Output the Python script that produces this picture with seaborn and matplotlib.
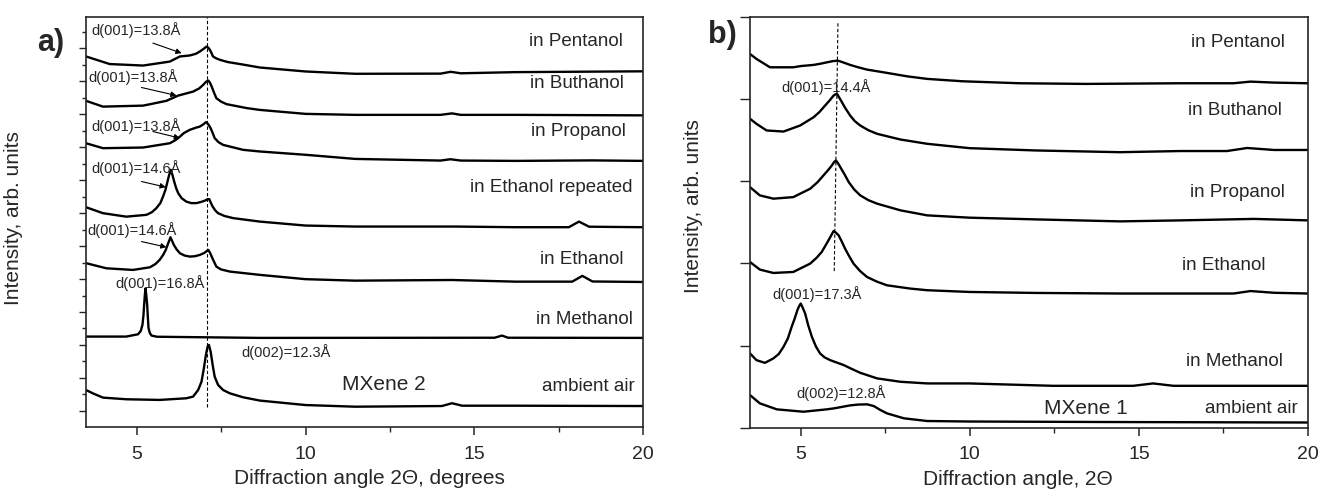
import matplotlib
matplotlib.use("Agg")
import matplotlib.pyplot as plt
from matplotlib.ticker import FixedLocator, MultipleLocator, NullFormatter
import pandas as pd
import seaborn as sns

# ---------------------------------------------------------------------------
# XRD patterns, MXene 2 (panel a) - stacked intensities, arb. units
# ---------------------------------------------------------------------------
a_pentanol_2t = [3.5, 4.2, 5.19, 5.98, 6.28, 6.57, 6.75, 6.87, 6.98, 7.07, 7.12, 7.17, 7.22,
                 7.26, 7.35, 7.46, 7.7, 8.06, 8.65, 10.0, 11.47, 14.0, 14.3, 14.6, 16.22, 20.0]
a_pentanol_i = [22.49, 22.03, 21.94, 22.18, 22.49, 22.55, 22.65, 22.79, 22.95, 23.09, 23.02,
                22.89, 22.68, 22.49, 22.38, 22.29, 22.15, 22.03, 21.82, 21.58, 21.44, 21.45,
                21.56, 21.47, 21.54, 21.59]

a_buthanol_2t = [3.5, 4.0, 5.19, 5.88, 6.23, 6.67, 6.85, 6.97, 7.05, 7.12, 7.17, 7.22, 7.29,
                 7.36, 7.5, 7.66, 8.26, 8.65, 10.0, 11.47, 14.0, 14.34, 14.6, 16.22, 20.0]
a_buthanol_i = [19.80, 19.45, 19.51, 19.80, 20.12, 20.36, 20.55, 20.77, 20.95, 21.03, 20.90,
                20.67, 20.30, 19.96, 19.75, 19.60, 19.36, 19.25, 19.01, 18.95, 18.95, 19.04,
                18.95, 18.95, 18.92]

a_propanol_2t = [3.5, 4.0, 5.19, 5.98, 6.15, 6.28, 6.4, 6.57, 6.75, 6.87, 6.97, 7.05, 7.12,
                 7.19, 7.25, 7.31, 7.42, 7.56, 8.15, 8.65, 10.0, 11.47, 14.0, 14.29, 14.6,
                 16.22, 18.5, 20.0]
a_propanol_i = [17.23, 16.93, 16.97, 17.23, 17.42, 17.63, 17.85, 18.04, 18.17, 18.24, 18.37,
                18.51, 18.38, 18.14, 17.85, 17.54, 17.30, 17.13, 16.83, 16.73, 16.53, 16.28,
                16.18, 16.26, 16.18, 16.16, 16.19, 16.16]

a_ethanol_rep_2t = [3.5, 4.0, 4.69, 5.29, 5.45, 5.58, 5.70, 5.78, 5.85, 5.90, 5.96, 6.01, 6.06,
                    6.11, 6.17, 6.23, 6.33, 6.47, 6.62, 6.77, 6.92, 7.02, 7.10, 7.15, 7.20,
                    7.25, 7.33, 7.41, 7.6, 7.86, 8.65, 10.0, 11.47, 14.44, 16.22, 17.8, 18.1,
                    18.4, 20.0]
a_ethanol_rep_i = [13.35, 12.99, 12.78, 12.89, 13.05, 13.29, 13.60, 14.00, 14.40, 14.81, 15.30,
                   15.62, 15.30, 14.91, 14.50, 14.20, 13.90, 13.69, 13.60, 13.60, 13.68, 13.75,
                   13.84, 13.84, 13.60, 13.39, 13.15, 12.99, 12.82, 12.69, 12.48, 12.24, 12.18,
                   12.18, 12.14, 12.14, 12.48, 12.17, 12.14]

a_ethanol_2t = [3.5, 4.1, 4.89, 5.39, 5.55, 5.68, 5.78, 5.86, 5.93, 6.00, 6.05, 6.10, 6.18,
                6.28, 6.42, 6.57, 6.72, 6.87, 7.0, 7.12, 7.17, 7.22, 7.29, 7.36, 7.5, 7.76,
                8.65, 10.0, 11.47, 14.34, 16.22, 17.9, 18.2, 18.5, 20.0]
a_ethanol_i = [9.96, 9.65, 9.55, 9.71, 9.90, 10.16, 10.45, 10.76, 11.15, 11.53, 11.30, 11.07,
               10.80, 10.56, 10.42, 10.36, 10.38, 10.46, 10.58, 10.76, 10.60, 10.36, 10.05,
               9.75, 9.58, 9.45, 9.25, 8.99, 8.90, 8.94, 8.84, 8.84, 9.19, 8.85, 8.82]

a_methanol_2t = [3.5, 4.69, 5.04, 5.12, 5.17, 5.20, 5.22, 5.24, 5.26, 5.285, 5.31, 5.33, 5.35,
                 5.39, 5.44, 5.6, 8.65, 15.6, 15.82, 16.0, 20.0]
a_methanol_i = [5.51, 5.51, 5.65, 5.85, 6.22, 6.80, 7.43, 8.00, 8.43, 8.00, 7.43, 6.70, 6.02,
                5.72, 5.57, 5.50, 5.43, 5.44, 5.57, 5.44, 5.43]

a_air_2t = [3.5, 3.70, 4.0, 4.69, 5.68, 6.47, 6.67, 6.82, 6.92, 6.99, 7.05, 7.10, 7.14, 7.19,
            7.25, 7.31, 7.41, 7.56, 7.76, 8.15, 8.65, 10.0, 11.47, 14.04, 14.34, 14.64,
            16.22, 20.0]
a_air_i = [2.27, 2.07, 1.81, 1.71, 1.67, 1.77, 1.87, 2.27, 2.78, 3.59, 4.40, 4.90, 5.00, 4.60,
           3.79, 3.08, 2.58, 2.27, 2.07, 1.83, 1.63, 1.36, 1.26, 1.30, 1.47, 1.32, 1.32, 1.30]

# ---------------------------------------------------------------------------
# XRD patterns, MXene 1 (panel b)
# ---------------------------------------------------------------------------
b_pentanol_2t = [3.5, 3.69, 4.09, 4.78, 5.0, 5.38, 5.6, 5.77, 5.95, 6.10, 6.25, 6.46, 6.7,
                 6.96, 7.55, 8.15, 8.74, 9.79, 11.47, 13.45, 16.22, 17.8, 18.3, 19.0, 20.0]
b_pentanol_i = [4.547, 4.487, 4.385, 4.385, 4.400, 4.414, 4.430, 4.445, 4.460, 4.466, 4.445,
                4.414, 4.385, 4.357, 4.317, 4.275, 4.244, 4.215, 4.191, 4.183, 4.191, 4.191,
                4.211, 4.199, 4.191]

b_buthanol_2t = [3.5, 3.69, 3.99, 4.49, 4.98, 5.38, 5.55, 5.72, 5.85, 5.97, 6.02, 6.07, 6.12,
                 6.22, 6.30, 6.46, 6.6, 6.76, 7.0, 7.26, 7.95, 8.74, 9.99, 11.96, 14.44,
                 16.22, 17.6, 18.2, 19.0, 20.0]
b_buthanol_i = [3.759, 3.698, 3.617, 3.604, 3.677, 3.778, 3.840, 3.920, 3.980, 4.041, 4.055,
                4.062, 4.030, 3.960, 3.900, 3.799, 3.730, 3.677, 3.620, 3.576, 3.507, 3.455,
                3.402, 3.374, 3.353, 3.367, 3.367, 3.404, 3.380, 3.380]

b_propanol_2t = [3.5, 3.79, 4.19, 4.78, 5.28, 5.5, 5.67, 5.82, 5.92, 5.99, 6.04, 6.10, 6.17,
                 6.3, 6.42, 6.58, 6.76, 7.0, 7.26, 7.95, 8.74, 9.99, 11.96, 14.44, 16.22,
                 18.4, 20.0]
b_propanol_i = [2.928, 2.828, 2.788, 2.807, 2.909, 2.990, 3.070, 3.140, 3.192, 3.235, 3.252,
                3.220, 3.171, 3.080, 2.989, 2.900, 2.828, 2.770, 2.727, 2.646, 2.585, 2.557,
                2.536, 2.512, 2.524, 2.542, 2.524]

b_ethanol_2t = [3.5, 3.79, 4.19, 4.78, 5.28, 5.47, 5.62, 5.72, 5.82, 5.90, 5.97, 6.04, 6.12,
                6.21, 6.31, 6.43, 6.56, 6.75, 6.96, 7.25, 7.55, 8.24, 8.74, 9.99, 11.96, 14.44,
                16.22, 17.8, 18.3, 19.0, 20.0]
b_ethanol_i = [2.018, 1.926, 1.885, 1.897, 1.999, 2.070, 2.140, 2.210, 2.282, 2.340, 2.394,
               2.375, 2.342, 2.270, 2.181, 2.090, 1.999, 1.910, 1.836, 1.780, 1.735, 1.695,
               1.675, 1.654, 1.642, 1.635, 1.635, 1.635, 1.665, 1.644, 1.635]

b_methanol_2t = [3.5, 3.69, 3.94, 4.19, 4.35, 4.49, 4.62, 4.73, 4.82, 4.90, 4.95, 5.00, 5.06,
                 5.13, 5.22, 5.33, 5.45, 5.57, 5.7, 5.87, 6.27, 6.5, 6.76, 7.26, 7.95, 8.74,
                 9.99, 12.46, 14.83, 15.42, 16.02, 20.0]
b_methanol_i = [0.907, 0.825, 0.792, 0.846, 0.900, 0.987, 1.090, 1.229, 1.330, 1.432, 1.480,
                1.513, 1.460, 1.392, 1.250, 1.108, 0.990, 0.907, 0.860, 0.825, 0.765, 0.720,
                0.671, 0.603, 0.562, 0.542, 0.542, 0.513, 0.513, 0.542, 0.513, 0.513]

b_air_2t = [3.5, 3.79, 4.29, 5.08, 5.77, 6.0, 6.46, 6.7, 6.96, 7.16, 7.35, 7.55, 8.05, 8.74,
            10.0, 14.0, 20.0]
b_air_i = [0.400, 0.300, 0.227, 0.198, 0.227, 0.240, 0.275, 0.285, 0.288, 0.267, 0.220, 0.178,
           0.118, 0.085, 0.079, 0.073, 0.067]

# sample names as printed next to each pattern
samples_a = ["in Pentanol", "in Buthanol", "in Propanol", "in Ethanol repeated",
             "in Ethanol", "in Methanol", "ambient air"]
samples_b = ["in Pentanol", "in Buthanol", "in Propanol", "in Ethanol", "in Methanol",
             "ambient air"]

# interlayer spacings quoted on the plots
d_labels_a = ["d(001)=13.8Å", "d(001)=13.8Å", "d(001)=13.8Å", "d(001)=14.6Å",
              "d(001)=14.6Å", "d(001)=16.8Å", "d(002)=12.3Å"]
d_labels_b = ["d(001)=14.4Å", "d(001)=17.3Å", "d(002)=12.8Å"]


def long_form(names, pairs):
    frames = []
    for name, (tt, inten) in zip(names, pairs):
        frames.append(pd.DataFrame({"two_theta": tt, "intensity": inten, "sample": name}))
    return pd.concat(frames, ignore_index=True)


df_a = long_form(samples_a, [
    (a_pentanol_2t, a_pentanol_i), (a_buthanol_2t, a_buthanol_i),
    (a_propanol_2t, a_propanol_i), (a_ethanol_rep_2t, a_ethanol_rep_i),
    (a_ethanol_2t, a_ethanol_i), (a_methanol_2t, a_methanol_i), (a_air_2t, a_air_i)])
df_b = long_form(samples_b, [
    (b_pentanol_2t, b_pentanol_i), (b_buthanol_2t, b_buthanol_i),
    (b_propanol_2t, b_propanol_i), (b_ethanol_2t, b_ethanol_i),
    (b_methanol_2t, b_methanol_i), (b_air_2t, b_air_i)])

sns.set_style("ticks")
plt.rcParams["font.family"] = ["Liberation Sans", "DejaVu Sans"]
plt.rcParams["axes.linewidth"] = 1.2

fig = plt.figure(figsize=(13.2, 4.9), dpi=100)
ax_a = fig.add_axes([0.0652, 0.1276, 0.4220, 0.8383])
ax_b = fig.add_axes([0.5682, 0.1265, 0.4227, 0.8394])

for ax, df in ((ax_a, df_a), (ax_b, df_b)):
    sns.lineplot(data=df, x="two_theta", y="intensity", units="sample", estimator=None,
                 sort=False, color="black", linewidth=1.7, legend=False, ax=ax)
    for ln in ax.lines:
        ln.set_solid_joinstyle("round")
    ax.set_xlim(3.5, 20)
    ax.xaxis.set_major_locator(FixedLocator([5, 10, 15, 20]))
    ax.xaxis.set_minor_locator(FixedLocator([7.5, 12.5, 17.5]))
    ax.tick_params(axis="x", which="major", direction="out", length=6, width=1.1,
                   labelsize=14, pad=7)
    ax.tick_params(axis="x", which="minor", direction="out", length=3.5, width=1.0)
    ax.tick_params(axis="y", which="both", direction="out", labelleft=False, width=1.0)
    for s in ax.spines.values():
        s.set_visible(True)
        s.set_linewidth(1.2)
    ax.set_ylabel("Intensity, arb. units", fontsize=15)

# ---- panel a ----
ax_a.set_ylim(0, 24.9)
ax_a.yaxis.set_major_locator(FixedLocator(list(range(1, 25, 2))))
ax_a.yaxis.set_minor_locator(FixedLocator(list(range(2, 25, 2))))
ax_a.yaxis.set_minor_formatter(NullFormatter())
ax_a.tick_params(axis="y", which="major", length=5)
ax_a.tick_params(axis="y", which="minor", length=3)
ax_a.vlines(7.08, 1.26, 24.9, colors="black", linewidth=0.8, linestyles=(0, (3, 2)))
ax_a.set_xlabel("Diffraction angle 2Θ, degrees", fontsize=15)
ax_a.xaxis.set_label_coords(0.508, -0.124)
ax_a.xaxis.label.set_va("center")
ax_a.yaxis.set_label_coords(-0.114, 0.51)

name_pos_a = [(19.39, 23.40), (19.42, 20.87), (19.48, 17.94), (19.69, 14.57),
              (19.42, 10.16), (19.69, 6.52), (19.76, 2.47)]
for name, (x, y) in zip(samples_a, name_pos_a):
    ax_a.text(x, y, name, ha="right", va="center", fontsize=13.5)
ax_a.text(12.33, 2.58, "MXene 2", ha="center", va="center", fontsize=15)

d_pos_a = [(3.66, 24.11), (3.58, 21.27), (3.66, 18.30), (3.66, 15.72), (3.55, 11.98),
           (4.38, 8.74), (8.09, 4.60)]
for lab, (x, y) in zip(d_labels_a, d_pos_a):
    ax_a.text(x, y, lab, ha="left", va="center", fontsize=10.5)

arrows_a = [((5.48, 23.30), (6.33, 22.69)), ((5.14, 20.61), (6.18, 20.12)),
            ((5.48, 17.94), (6.28, 17.54)), ((5.14, 14.91), (5.86, 14.57)),
            ((5.14, 11.27), (5.88, 10.93))]
for start, end in arrows_a:
    ax_a.annotate("", xy=end, xytext=start,
                  arrowprops=dict(arrowstyle="-|>", color="black", lw=0.8,
                                  mutation_scale=8, shrinkA=0, shrinkB=0))

# ---- panel b ----
ax_b.set_ylim(0, 5)
ax_b.yaxis.set_major_locator(MultipleLocator(1))
ax_b.tick_params(axis="y", which="major", length=7)
ax_b.plot([6.10, 5.99], [4.92, 1.89], color="black", linewidth=0.8, linestyle=(0, (3, 2)))
ax_b.set_xlabel("Diffraction angle, 2Θ", fontsize=15)
ax_b.xaxis.set_label_coords(0.48, -0.124)
ax_b.xaxis.label.set_va("center")
ax_b.yaxis.set_label_coords(-0.085, 0.54)

name_pos_b = [(19.33, 4.688), (19.24, 3.859), (19.33, 2.868), (18.74, 1.978),
              (19.27, 0.805), (19.69, 0.239)]
for name, (x, y) in zip(samples_b, name_pos_b):
    ax_b.text(x, y, name, ha="right", va="center", fontsize=13.5)
ax_b.text(13.43, 0.243, "MXene 1", ha="center", va="center", fontsize=15)

d_pos_b = [(4.44, 4.150), (4.16, 1.626), (4.86, 0.428)]
for lab, (x, y) in zip(d_labels_b, d_pos_b):
    ax_b.text(x, y, lab, ha="left", va="center", fontsize=10.5)

fig.text(0.0386, 0.912, "a)", fontsize=22, fontweight="bold", ha="center", va="center")
fig.text(0.547, 0.929, "b)", fontsize=22, fontweight="bold", ha="center", va="center")

fig.savefig("out.png", dpi=100)
